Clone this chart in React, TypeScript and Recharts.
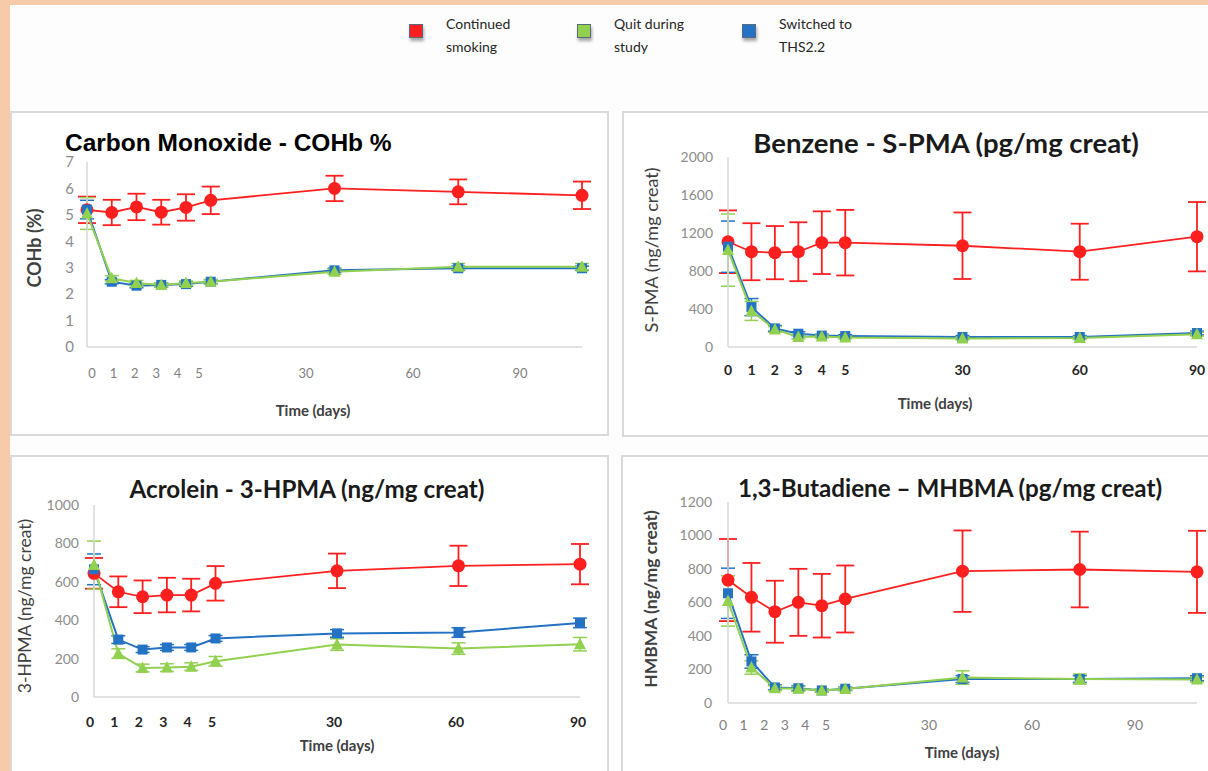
import { ErrorBar, Line, LineChart, XAxis, YAxis } from "recharts";

// x positions: days 0-5 one slot apart, then 30/60/90 five slots apart
const SLOTS = [0, 1, 2, 3, 4, 5, 10, 15, 20];
const DAY_LABELS = ["0", "1", "2", "3", "4", "5", "30", "60", "90"];

const LEGEND_LABELS = [
  ["Continued", "smoking"],
  ["Quit during", "study"],
  ["Switched to", "THS2.2"],
];

// Carbon Monoxide - COHb %
const COHB_CONT = [5.19, 5.09, 5.3, 5.1, 5.28, 5.55, 6.0, 5.87, 5.74];
const COHB_CONT_ERR = [0.5, 0.48, 0.5, 0.47, 0.5, 0.52, 0.48, 0.47, 0.52];
const COHB_QUIT = [5.05, 2.6, 2.42, 2.35, 2.42, 2.47, 2.85, 3.04, 3.04];
const COHB_QUIT_ERR = [0.6, 0.1, 0.1, 0.08, 0.08, 0.08, 0.1, 0.12, 0.12];
const COHB_SW = [5.2, 2.47, 2.32, 2.35, 2.38, 2.47, 2.9, 2.98, 2.98];
const COHB_SW_ERR = [0.35, 0.08, 0.08, 0.08, 0.08, 0.08, 0.08, 0.08, 0.08];

// Benzene - S-PMA
const SPMA_CONT = [1108, 1003, 993, 1003, 1098, 1098, 1066, 1003, 1161];
const SPMA_CONT_ERR = [330, 300, 280, 310, 330, 345, 350, 295, 365];
const SPMA_QUIT = [1020, 380, 185, 105, 110, 100, 90, 95, 135];
const SPMA_QUIT_ERR = [380, 100, 30, 20, 15, 15, 15, 15, 20];
const SPMA_SW = [1056, 420, 196, 140, 120, 115, 105, 105, 147];
const SPMA_SW_ERR = [270, 90, 30, 20, 15, 15, 15, 15, 20];

// Acrolein - 3-HPMA
const HPMA_CONT = [644, 548, 522, 531, 531, 592, 657, 683, 692];
const HPMA_CONT_ERR = [80, 80, 85, 90, 85, 90, 90, 105, 105];
const HPMA_QUIT = [687, 226, 151, 153, 158, 186, 273, 252, 275];
const HPMA_QUIT_ERR = [125, 25, 20, 20, 20, 25, 30, 30, 35];
const HPMA_SW = [665, 299, 247, 258, 258, 305, 331, 336, 386];
const HPMA_SW_ERR = [80, 20, 15, 15, 15, 15, 20, 25, 25];

// 1,3-Butadiene - MHBMA
const MHBMA_CONT = [734, 631, 545, 601, 581, 621, 787, 797, 783];
const MHBMA_CONT_ERR = [245, 205, 185, 200, 190, 200, 243, 226, 245];
const MHBMA_QUIT = [609, 212, 88, 85, 75, 83, 152, 143, 140];
const MHBMA_QUIT_ERR = [150, 40, 15, 15, 10, 10, 40, 30, 15];
const MHBMA_SW = [655, 248, 93, 88, 75, 85, 143, 143, 148];
const MHBMA_SW_ERR = [150, 40, 15, 15, 10, 10, 20, 20, 15];

const RED = "#ff1f1f";
const GREEN = "#92d050";
const BLUE = "#2372c4";
const GRID = "#d9d9d9";
const FONT = "Lato, 'Open Sans', sans-serif";

function buildRows(cont: number[], contErr: number[], quit: number[], quitErr: number[], sw: number[], swErr: number[]) {
  return SLOTS.map((slot, i) => ({
    slot,
    cont: cont[i],
    contErr: contErr[i],
    quit: quit[i],
    quitErr: quitErr[i],
    sw: sw[i],
    swErr: swErr[i],
  }));
}

function makeDot(kind: "circle" | "square" | "triangle", color: string) {
  return (p: any) => {
    const { cx, cy, index } = p;
    if (cx == null || cy == null) return <g key={index} />;
    if (kind === "circle") return <circle key={index} cx={cx} cy={cy} r={6.5} fill={color} />;
    if (kind === "square")
      return <rect key={index} x={cx - 5} y={cy - 5} width={10} height={10} fill={color} />;
    return (
      <polygon
        key={index}
        points={`${cx},${cy - 6.5} ${cx + 6},${cy + 5} ${cx - 6},${cy + 5}`}
        fill={color}
      />
    );
  };
}

interface PanelProps {
  left: number;
  top: number;
  width: number;
  height: number;
  rows: ReturnType<typeof buildRows>;
  yTicks: number[];
  yWidth: number;
  yTickMargin: number;
  yFontSize: number;
  margin: { top: number; right: number; bottom: number };
  labelDomain: [number, number];
  xTickMargin: number;
  xTickBold: boolean;
  xFontSize: number;
}

function Panel(p: PanelProps) {
  const yMax = p.yTicks[p.yTicks.length - 1];
  return (
    <div style={{ position: "absolute", left: p.left, top: p.top }}>
      <LineChart
        width={p.width}
        height={p.height}
        data={p.rows}
        margin={{ top: p.margin.top, right: p.margin.right, bottom: p.margin.bottom, left: 0 }}
      >
        <XAxis xAxisId="data" type="number" dataKey="slot" domain={[0, 20]} height={0} hide />
        {/* tick labels sit on their own, slightly shifted scale, as in the source figure */}
        <XAxis
          xAxisId="lbl"
          type="number"
          dataKey="slot"
          domain={p.labelDomain}
          allowDataOverflow
          ticks={SLOTS}
          interval={0}
          height={30}
          tickFormatter={(v) => DAY_LABELS[SLOTS.indexOf(v)] ?? ""}
          axisLine={{ stroke: GRID, strokeWidth: 1.5 }}
          tickLine={false}
          tickSize={0}
          tickMargin={p.xTickMargin}
          tick={{
            fontSize: p.xFontSize,
            fontFamily: FONT,
            fontWeight: p.xTickBold ? 700 : 400,
            fill: p.xTickBold ? "#262626" : "#7f7f7f",
          }}
        />
        <YAxis
          type="number"
          domain={[0, yMax]}
          ticks={p.yTicks}
          interval={0}
          width={p.yWidth}
          axisLine={{ stroke: GRID, strokeWidth: 1.5 }}
          tickLine={false}
          tickSize={0}
          tickMargin={p.yTickMargin}
          tick={{ fontSize: p.yFontSize, fontFamily: FONT, fill: "#8c8c8c" }}
        />
        <Line
          xAxisId="data"
          dataKey="cont"
          stroke={RED}
          strokeWidth={1.8}
          dot={makeDot("circle", RED)}
          activeDot={false}
          isAnimationActive={false}
        >
          <ErrorBar dataKey="contErr" direction="y" width={9} stroke={RED} strokeWidth={1.8} />
        </Line>
        <Line
          xAxisId="data"
          dataKey="sw"
          stroke={BLUE}
          strokeWidth={2}
          dot={makeDot("square", BLUE)}
          activeDot={false}
          isAnimationActive={false}
        >
          <ErrorBar dataKey="swErr" direction="y" width={7} stroke={BLUE} strokeWidth={1.5} />
        </Line>
        <Line
          xAxisId="data"
          dataKey="quit"
          stroke={GREEN}
          strokeWidth={2}
          dot={makeDot("triangle", GREEN)}
          activeDot={false}
          isAnimationActive={false}
        >
          <ErrorBar dataKey="quitErr" direction="y" width={7} stroke={GREEN} strokeWidth={1.5} />
        </Line>
      </LineChart>
    </div>
  );
}

const abs = (left: number, top: number, extra: React.CSSProperties = {}): React.CSSProperties => ({
  position: "absolute",
  left,
  top,
  ...extra,
});

function Box({ left, top, width, height }: { left: number; top: number; width: number; height: number }) {
  return (
    <div
      style={abs(left, top, {
        width,
        height,
        border: `2px solid ${GRID}`,
        boxSizing: "border-box",
        background: "#fff",
      })}
    />
  );
}

function Centered({ x, y, text, style }: { x: number; y: number; text: string; style: React.CSSProperties }) {
  return (
    <div
      style={abs(x, y, {
        transform: "translate(-50%, -50%)",
        whiteSpace: "nowrap",
        fontFamily: FONT,
        ...style,
      })}
    >
      {text}
    </div>
  );
}

function VLabel({ x, y, text, weight, size }: { x: number; y: number; text: string; weight: number; size: number }) {
  return (
    <div
      style={abs(x, y, {
        transform: "translate(-50%, -50%) rotate(-90deg)",
        whiteSpace: "nowrap",
        fontFamily: FONT,
        fontSize: size,
        fontWeight: weight,
        color: "#404040",
      })}
    >
      {text}
    </div>
  );
}

const LEGEND_COLORS = [RED, GREEN, BLUE];
const LEGEND_X = [409, 577, 742];

export default function App() {
  const axisTitle: React.CSSProperties = { fontSize: 15, fontWeight: 700, color: "#404040" };
  const chartTitle = (size: number): React.CSSProperties => ({
    fontSize: size,
    fontWeight: 700,
    color: "#1a1a1a",
    lineHeight: 1,
  });
  return (
    <div
      style={{
        position: "fixed",
        left: 0,
        top: 0,
        width: 1208,
        height: 771,
        overflow: "hidden",
        background: "#f7caa9",
      }}
    >
      <div style={abs(10, 5, { width: 1198, height: 766, background: "#fdfdfd" })} />

      {LEGEND_LABELS.map((lines, i) => (
        <div key={i}>
          <div
            style={abs(LEGEND_X[i], 24, {
              width: 14,
              height: 14,
              background: LEGEND_COLORS[i],
              border: "1px solid #5a6a80",
              boxSizing: "border-box",
              boxShadow: "1px 3px 3px rgba(0,0,0,0.35)",
            })}
          />
          <div
            style={abs(LEGEND_X[i] + 37, 12, {
              fontFamily: FONT,
              fontSize: 14,
              lineHeight: "23px",
              color: "#262626",
            })}
          >
            {lines[0]}
            <br />
            {lines[1]}
          </div>
        </div>
      ))}

      <Box left={10} top={111} width={599} height={325} />
      <Box left={622} top={111} width={600} height={326} />
      <Box left={10} top={455} width={599} height={330} />
      <Box left={621} top={455} width={600} height={330} />

      <Panel
        left={10}
        top={111}
        width={598}
        height={325}
        rows={buildRows(COHB_CONT, COHB_CONT_ERR, COHB_QUIT, COHB_QUIT_ERR, COHB_SW, COHB_SW_ERR)}
        yTicks={[0, 1, 2, 3, 4, 5, 6, 7]}
        yWidth={77}
        yTickMargin={13}
        yFontSize={15}
        margin={{ top: 51, right: 26, bottom: 59 }}
        labelDomain={[-0.234, 22.9]}
        xTickMargin={22}
        xTickBold={false}
        xFontSize={13}
      />
      <Panel
        left={623}
        top={111}
        width={585}
        height={325}
        rows={buildRows(SPMA_CONT, SPMA_CONT_ERR, SPMA_QUIT, SPMA_QUIT_ERR, SPMA_SW, SPMA_SW_ERR)}
        yTicks={[0, 400, 800, 1200, 1600, 2000]}
        yWidth={105}
        yTickMargin={15}
        yFontSize={14}
        margin={{ top: 46, right: 11, bottom: 59 }}
        labelDomain={[0, 20]}
        xTickMargin={18}
        xTickBold={true}
        xFontSize={14}
      />
      <Panel
        left={10}
        top={455}
        width={598}
        height={316}
        rows={buildRows(HPMA_CONT, HPMA_CONT_ERR, HPMA_QUIT, HPMA_QUIT_ERR, HPMA_SW, HPMA_SW_ERR)}
        yTicks={[0, 200, 400, 600, 800, 1000]}
        yWidth={84}
        yTickMargin={15}
        yFontSize={14}
        margin={{ top: 50, right: 28, bottom: 44 }}
        labelDomain={[0.164, 20.08]}
        xTickMargin={20}
        xTickBold={true}
        xFontSize={14}
      />
      <Panel
        left={623}
        top={455}
        width={585}
        height={316}
        rows={buildRows(MHBMA_CONT, MHBMA_CONT_ERR, MHBMA_QUIT, MHBMA_QUIT_ERR, MHBMA_SW, MHBMA_SW_ERR)}
        yTicks={[0, 200, 400, 600, 800, 1000, 1200]}
        yWidth={105}
        yTickMargin={16}
        yFontSize={14}
        margin={{ top: 47, right: 11, bottom: 38 }}
        labelDomain={[0.243, 23.01]}
        xTickMargin={17}
        xTickBold={false}
        xFontSize={14}
      />

      <div
        style={abs(65, 133, {
          fontFamily: "'Liberation Sans', Arial, sans-serif",
          fontSize: 24.5,
          fontWeight: 700,
          color: "#000",
          whiteSpace: "nowrap",
          lineHeight: "20px",
        })}
      >
        Carbon Monoxide - COHb %
      </div>
      <Centered x={946} y={143} text="Benzene - S-PMA (pg/mg creat)" style={chartTitle(27.5)} />
      <Centered x={307} y={489} text="Acrolein - 3-HPMA (ng/mg creat)" style={chartTitle(24.2)} />
      <Centered x={950} y={488} text="1,3-Butadiene – MHBMA (pg/mg creat)" style={chartTitle(24.2)} />

      <VLabel x={34} y={248} text="COHb (%)" weight={700} size={18} />
      <VLabel x={651} y={250} text="S-PMA (ng/mg creat)" weight={400} size={18} />
      <VLabel x={24} y={606} text="3-HPMA (ng/mg creat)" weight={400} size={17.5} />
      <VLabel x={650} y={599} text="HMBMA (ng/mg creat)" weight={700} size={17.5} />

      <Centered x={313} y={410} text="Time (days)" style={axisTitle} />
      <Centered x={935} y={403} text="Time (days)" style={axisTitle} />
      <Centered x={337} y={745} text="Time  (days)" style={axisTitle} />
      <Centered x={962} y={752} text="Time (days)" style={axisTitle} />
    </div>
  );
}
